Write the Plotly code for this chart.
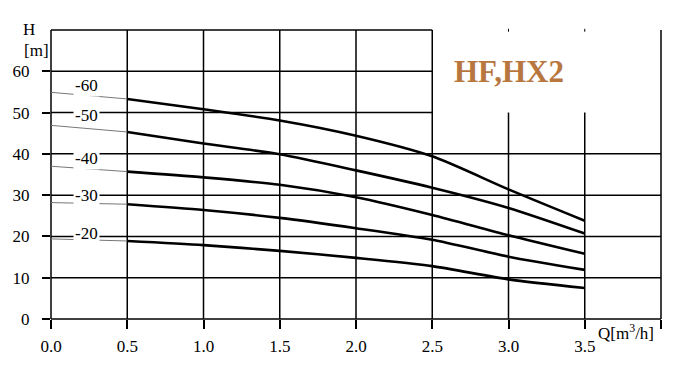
import plotly.graph_objects as go

# ---- data ----
Q = [0.0, 0.5, 1.0, 1.5, 2.0, 2.5, 3.0, 3.5]
H_60 = [54.9, 53.3, 50.8, 48.1, 44.4, 39.4, 31.4, 23.8]
H_50 = [46.9, 45.3, 42.5, 39.9, 36.0, 31.8, 26.9, 20.7]
H_40 = [37.0, 35.7, 34.3, 32.5, 29.5, 25.2, 20.3, 15.8]
H_30 = [28.2, 27.8, 26.4, 24.5, 22.0, 19.2, 15.1, 11.9]
H_20 = [19.4, 18.9, 17.9, 16.5, 14.8, 12.8, 9.6, 7.5]
series = [("-60", H_60), ("-50", H_50), ("-40", H_40), ("-30", H_30), ("-20", H_20)]
label_pos = {"-60": 56.6, "-50": 49.4, "-40": 38.9, "-30": 29.8, "-20": 20.8}
label_q = 0.23

x_ticks = [0.0, 0.5, 1.0, 1.5, 2.0, 2.5, 3.0, 3.5, 4.0]
x_ticktext = ["0.0", "0.5", "1.0", "1.5", "2.0", "2.5", "3.0", "3.5", " "]
y_ticks = [0, 10, 20, 30, 40, 50, 60]
y_grid = [0, 10, 20, 30, 40, 50, 60, 70]
X_MAX, Y_MAX = 4.0, 70
title_text = "HF,HX2"

SERIF = "Liberation Serif, Times New Roman, serif"
fig = go.Figure()

for name, h in series:
    fig.add_trace(go.Scatter(x=Q[:2], y=h[:2], mode="lines",
                             line=dict(color="#777777", width=1),
                             showlegend=False, hoverinfo="skip"))
    fig.add_trace(go.Scatter(x=Q[1:], y=h[1:], mode="lines",
                             line=dict(color="black", width=2.6, shape="spline", smoothing=0.7),
                             showlegend=False, name=name))

shapes = []
LW = 1.5
# blank box behind the title (drawn first)
shapes.append(dict(type="rect", xref="paper", yref="paper",
                   x0=2.5 / X_MAX + 0.003, x1=1 - 0.004, y0=50 / Y_MAX + 0.004, y1=1.01,
                   fillcolor="white", line=dict(width=0), layer="above"))
for xv in x_ticks:
    y_top = 1.0 if xv in (0.0, 0.5, 1.0, 1.5, 2.0, 2.5, 4.0) else 50 / Y_MAX
    shapes.append(dict(type="line", xref="paper", yref="paper",
                       x0=xv / X_MAX, x1=xv / X_MAX, y0=0, y1=y_top,
                       line=dict(color="black", width=LW), layer="below"))
for yv in y_grid:
    x_right = 1.0 if yv <= 40 else 2.5 / X_MAX
    shapes.append(dict(type="line", xref="paper", yref="paper",
                       x0=0, x1=x_right, y0=yv / Y_MAX, y1=yv / Y_MAX,
                       line=dict(color="black", width=LW), layer="below"))
for xv in [3.0, 3.5]:
    shapes.append(dict(type="line", xref="paper", yref="paper",
                       x0=xv / X_MAX, x1=xv / X_MAX, y0=1 - 0.006, y1=1 + 0.004,
                       line=dict(color="black", width=1), layer="below"))
# remove rect from list: grid now built without the blanked region
shapes = shapes[1:]

annotations = []
for name, _ in series:
    annotations.append(dict(x=label_q, y=label_pos[name], xref="x", yref="y",
                            text=name, showarrow=False, bgcolor="white", borderpad=1,
                            font=dict(family=SERIF, size=17, color="black")))
annotations.append(dict(x=3.0, y=60, xref="x", yref="y", text="<b>" + title_text + "</b>",
                        showarrow=False, font=dict(family=SERIF, size=31, color="#b7773f")))
annotations.append(dict(x=-0.049, y=1.0415, xref="paper", yref="paper", text="H",
                        showarrow=False, font=dict(family=SERIF, size=17, color="black")))
annotations.append(dict(x=-0.047, y=0.969, xref="paper", yref="paper", text="[m]",
                        showarrow=False, font=dict(family=SERIF, size=17, color="black")))
annotations.append(dict(x=0.893, y=-0.09, xref="paper", yref="paper", xanchor="left",
                        text="Q[m<sup>3</sup>/h]", showarrow=False,
                        font=dict(family=SERIF, size=17, color="black")))

fig.update_layout(
    width=677, height=371,
    margin=dict(l=51, r=16, t=30, b=52, pad=0),
    paper_bgcolor="white", plot_bgcolor="white",
    shapes=shapes, annotations=annotations,
    font=dict(family=SERIF, size=17, color="black"),
    xaxis=dict(range=[0, X_MAX], showgrid=False, zeroline=False, showline=False,
               tickmode="array", tickvals=x_ticks, ticktext=x_ticktext,
               ticks="outside", ticklen=9, tickwidth=1.5, tickcolor="black",
               ticklabelstandoff=3, fixedrange=True),
    yaxis=dict(range=[0, Y_MAX], showgrid=False, zeroline=False, showline=False,
               tickmode="array", tickvals=y_ticks,
               ticks="outside", ticklen=8, tickwidth=1.5, tickcolor="black",
               ticklabelstandoff=9, fixedrange=True),
)

fig.write_html("out.html", include_plotlyjs=True, config={"displayModeBar": False})
